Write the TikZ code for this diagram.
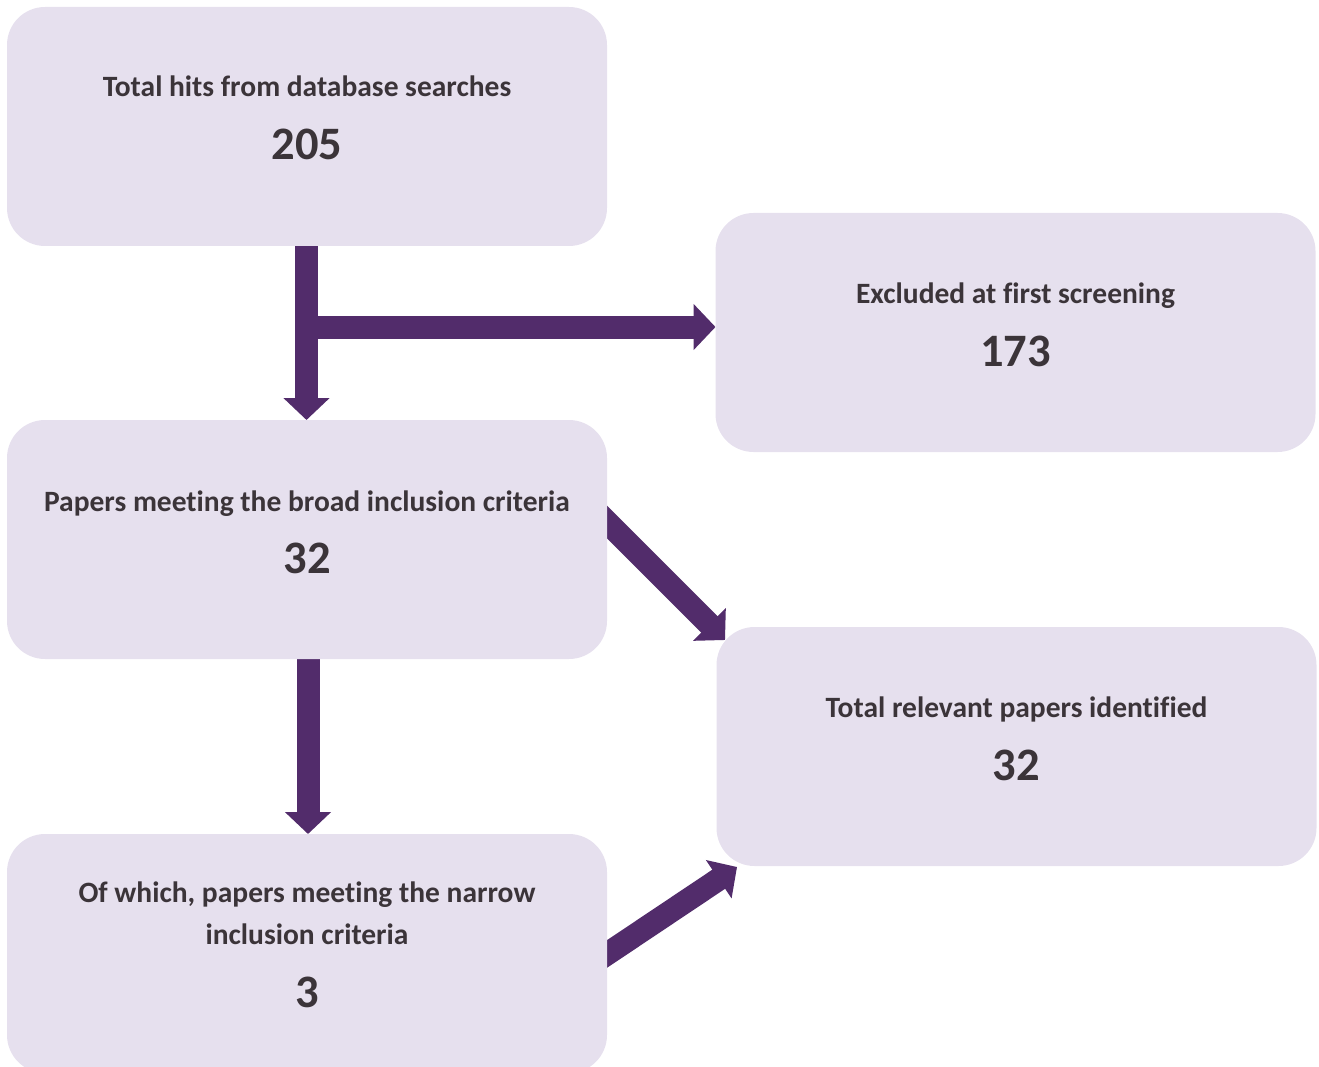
\documentclass[tikz,border=0pt]{standalone}
\usepackage{fontspec}
\setmainfont[Ligatures={NoCommon}]{Carlito}
\usetikzlibrary{arrows.meta,calc}
\definecolor{boxfill}{HTML}{E6E0EE}
\definecolor{arrowc}{HTML}{522C6B}
\definecolor{txt}{HTML}{3B3439}
\pgfdeclarelayer{bg}
\pgfsetlayers{bg,main}
\begin{document}
\begin{tikzpicture}[x=1pt,y=-1pt,
  box/.style={draw=none,fill=boxfill,rounded corners=38pt,minimum width=600pt,minimum height=239pt,inner sep=0pt,outer sep=0pt},
  lbl/.style={anchor=base,inner sep=0pt,text=txt,font=\fontsize{29.5}{35}\selectfont\bfseries},
  num/.style={anchor=base,inner sep=0pt,text=txt,font=\fontsize{46.5}{55}\selectfont\bfseries},
  bigarrow/.style={draw=arrowc,line width=23pt,-{Triangle[width=45pt,length=22pt]}}]
\useasboundingbox (0,0) rectangle (1319,1067);
% boxes
\node[box] (A) at (307,126.5) {};
\node[box] (B) at (1015.5,332.5) {};
\node[box] (C) at (307,539.5) {};
\node[box] (D) at (1016.5,746.5) {};
\node[box] (E) at (307,953.5) {};
% texts
\node[lbl] (At) at (307,97) {Total hits from database searches};
\node[num] (An) at (307,160) {205};
\node[lbl] (Bt) at (1015.5,303) {Excluded at first screening};
\node[num] (Bn) at (1015.5,366) {173};
\node[lbl] (Ct) at (307,511) {Papers meeting the broad inclusion criteria};
\node[num] (Cn) at (307,573) {32};
\node[lbl] (Dt) at (1016.5,717) {Total relevant papers identified};
\node[num] (Dn) at (1016.5,780) {32};
\node[lbl] (Et1) at (307,902) {Of which, papers meeting the narrow};
\node[lbl] (Et2) at (307,944) {inclusion criteria};
\node[num] (En) at (307,1007) {3};
% arrows
\coordinate (j) at (306.5,327);
\coordinate (cs) at (595,510);
\coordinate (ct) at (725,640);
\coordinate (es) at (595,962);
\coordinate (et) at (737,867);
\begin{pgfonlayer}{bg}
\draw[bigarrow] (A.south -| j) -- (C.north -| j);
\draw[bigarrow] (j) -- (j -| B.west);
\draw[bigarrow] (C.south -| 308,0) -- (E.north -| 308,0);
\draw[bigarrow] (cs) -- (ct);
\draw[bigarrow] (es) -- (et);
\end{pgfonlayer}
\end{tikzpicture}
\end{document}
